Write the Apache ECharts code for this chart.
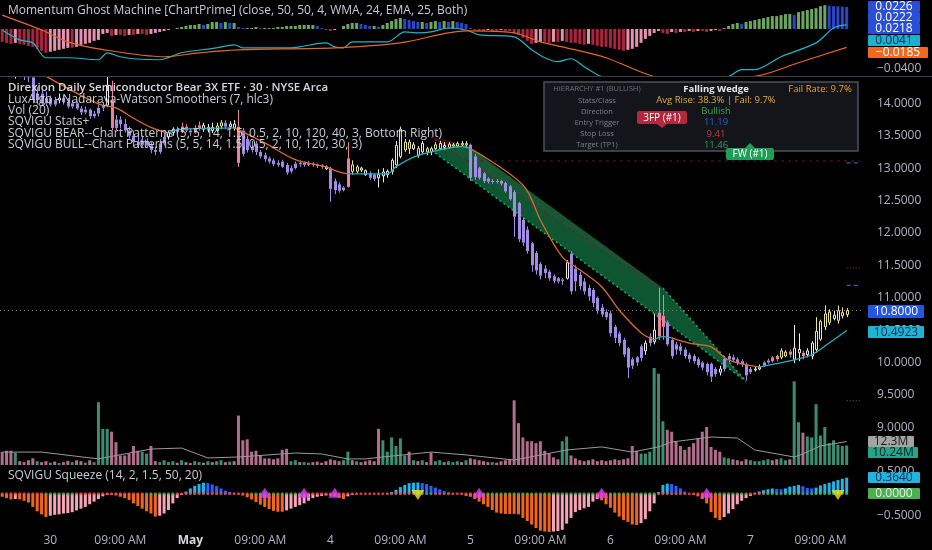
<!DOCTYPE html>
<html>
<head>
<meta charset="utf-8">
<script src="https://cdn.jsdelivr.net/npm/echarts@6.0.0/dist/echarts.min.js"></script>
<style>
html,body{margin:0;padding:0;background:#000;overflow:hidden}
#chart{width:932px;height:550px}
</style>
</head>
<body>
<div id="chart"></div>
<script>
// ---------------- DATA ----------------
const N = 197; // bar slots on the time axis (last few are right padding)
const tickIdx  = [11,27,43,59,75,91,107,123,139,155,171,187];
const tickText = ['30','09:00 AM','May','09:00 AM','4','09:00 AM','5','09:00 AM','6','09:00 AM','7','09:00 AM'];

const opens = [
14.62,14.58,14.55,14.50,14.52,14.47,14.44,14.40,14.05,14.15,
14.00,14.08,13.98,14.05,14.08,14.02,13.95,14.00,13.92,13.86,
13.90,13.80,13.84,13.93,13.97,14.05,13.62,13.75,13.68,13.58,
13.50,13.40,13.36,13.42,13.35,13.28,13.25,13.38,13.48,13.55,
13.60,13.56,13.64,13.58,13.55,13.62,13.66,13.60,13.63,13.58,
13.65,13.70,13.64,13.68,13.64,13.58,13.45,13.28,13.38,13.25,
13.20,13.15,13.12,13.08,13.10,13.05,12.95,13.00,13.06,13.08,
13.05,13.07,13.05,13.03,13.02,13.00,12.80,12.75,12.66,12.71,
13.05,12.95,13.00,12.96,12.92,12.90,12.85,12.88,12.90,12.95,
13.05,13.18,13.40,13.30,13.36,13.30,13.25,13.30,13.25,13.30,
13.30,13.35,13.32,13.36,13.34,13.38,13.36,13.36,13.18,13.00,
12.92,12.84,12.80,12.80,12.80,12.77,12.72,12.63,12.46,12.20,
12.05,11.84,11.69,11.52,11.45,11.40,11.33,11.30,11.26,11.30,
11.68,11.45,11.35,11.25,11.15,11.12,11.00,10.85,10.78,10.76,
10.55,10.45,10.35,10.22,10.05,10.00,10.07,10.18,10.30,10.32,
10.40,10.72,10.62,10.35,10.20,10.25,10.20,10.12,10.10,10.05,
10.00,9.98,9.98,9.90,9.85,9.90,10.05,10.08,10.05,10.02,
9.97,9.85,9.90,9.90,9.95,10.00,10.02,10.05,10.08,10.10,
10.12,10.05,10.15,10.10,10.12,10.10,10.20,10.36,10.55,10.62,
10.68,10.65,10.72,10.74];
const closes = [
14.58,14.55,14.50,14.52,14.47,14.44,14.40,14.05,14.15,14.00,
14.08,13.98,14.05,14.08,14.02,13.95,14.00,13.92,13.86,13.90,
13.80,13.84,13.93,13.97,14.28,13.62,13.75,13.68,13.58,13.50,
13.40,13.36,13.42,13.35,13.28,13.25,13.38,13.48,13.55,13.60,
13.56,13.64,13.58,13.55,13.62,13.66,13.60,13.63,13.58,13.65,
13.70,13.64,13.68,13.62,13.08,13.22,13.28,13.32,13.25,13.18,
13.14,13.10,13.06,13.05,13.02,12.93,13.00,13.07,13.08,13.05,
13.08,13.05,13.03,13.02,12.99,12.68,12.66,12.65,12.70,13.15,
12.95,13.02,12.97,12.90,12.85,12.83,12.90,12.94,12.95,13.12,
13.35,13.60,13.28,13.40,13.30,13.20,13.38,13.25,13.30,13.36,
13.38,13.32,13.37,13.34,13.38,13.36,13.38,12.85,12.86,12.85,
12.80,12.79,12.79,12.79,12.76,12.64,12.52,12.25,11.90,11.85,
11.72,11.50,11.42,11.34,11.38,11.30,11.26,11.25,11.28,11.54,
11.10,11.25,11.18,11.10,11.02,10.92,10.80,10.74,10.70,10.45,
10.38,10.30,10.12,9.92,9.95,10.08,10.25,10.30,10.40,10.50,
10.77,10.55,10.28,10.10,10.28,10.18,10.10,10.05,10.02,9.96,
9.92,9.85,9.78,9.82,9.90,10.06,10.10,10.04,10.00,9.97,
9.80,9.90,9.89,9.93,10.00,10.03,10.08,10.10,10.18,10.16,
10.17,10.22,10.20,10.15,10.18,10.30,10.48,10.63,10.75,10.78,
10.73,10.80,10.77,10.80];
const lows = [
14.52,14.48,14.40,14.38,14.40,14.36,14.33,14.00,13.98,13.96,
13.96,13.95,13.95,14.00,13.98,13.92,13.92,13.90,13.82,13.83,
13.76,13.77,13.80,13.88,13.94,13.58,13.58,13.62,13.55,13.46,
13.34,13.31,13.33,13.32,13.23,13.20,13.22,13.35,13.44,13.50,
13.52,13.54,13.55,13.50,13.53,13.58,13.56,13.55,13.54,13.56,
13.60,13.60,13.60,13.58,13.02,13.18,13.24,13.24,13.20,13.15,
13.10,13.07,13.03,13.02,13.00,12.90,12.92,12.98,13.02,13.02,
13.03,13.02,13.00,12.99,12.97,12.48,12.60,12.62,12.64,12.70,
12.90,12.92,12.94,12.88,12.82,12.80,12.70,12.78,12.85,12.90,
13.00,13.15,13.25,13.22,13.28,13.16,13.22,13.20,13.20,13.28,
13.28,13.28,13.30,13.31,13.32,13.33,13.33,12.80,12.82,12.82,
12.77,12.76,12.76,12.76,12.73,12.62,12.50,11.94,11.86,11.80,
11.68,11.40,11.36,11.28,11.30,11.26,11.22,11.22,11.20,11.28,
11.05,11.10,11.12,11.05,10.95,10.85,10.75,10.70,10.66,10.40,
10.30,10.25,10.08,9.76,9.90,9.95,10.02,10.12,10.25,10.28,
10.35,10.35,10.25,10.06,10.12,10.12,10.06,10.00,9.98,9.92,
9.88,9.80,9.70,9.78,9.80,9.86,10.00,10.00,9.96,9.93,
9.72,9.82,9.86,9.88,9.93,9.98,10.00,10.02,10.05,10.08,
10.08,9.99,10.02,10.05,10.08,10.05,10.15,10.33,10.50,10.58,
10.65,10.60,10.68,10.70];
const highs = [
14.70,14.64,14.60,14.58,14.56,14.52,14.50,14.45,14.25,14.20,
14.18,14.12,14.10,14.15,14.12,14.08,14.05,14.03,13.96,13.95,
13.92,13.88,13.98,14.02,14.42,14.35,13.82,13.80,13.76,13.64,
13.58,13.54,13.50,13.46,13.40,13.33,13.45,13.55,13.58,13.63,
13.64,13.70,13.68,13.62,13.66,13.72,13.70,13.68,13.70,13.70,
13.74,13.74,13.72,13.74,13.90,13.62,13.50,13.42,13.42,13.28,
13.24,13.18,13.15,13.12,13.13,13.08,13.04,13.10,13.12,13.10,
13.11,13.09,13.07,13.06,13.04,13.02,12.84,12.78,12.72,13.40,
13.12,13.05,13.02,12.98,12.95,12.92,12.98,13.00,12.98,13.15,
13.42,13.64,13.45,13.44,13.40,13.34,13.42,13.33,13.33,13.40,
13.42,13.40,13.40,13.39,13.41,13.42,13.42,13.38,13.22,13.02,
12.94,12.86,12.83,12.83,12.82,12.79,12.74,12.66,12.48,12.24,
12.10,11.86,11.72,11.55,11.50,11.43,11.36,11.32,11.30,11.58,
11.72,11.50,11.40,11.30,11.20,11.15,11.02,10.90,10.82,10.80,
10.58,10.48,10.38,10.24,10.08,10.10,10.28,10.34,10.45,10.75,
11.15,11.04,10.65,10.38,10.32,10.30,10.23,10.15,10.13,10.08,
10.02,10.00,10.00,9.93,9.95,10.10,10.14,10.12,10.08,10.05,
10.00,9.93,9.94,9.97,10.02,10.06,10.10,10.12,10.22,10.19,
10.20,10.58,10.45,10.18,10.22,10.33,10.70,10.66,10.88,10.82,
10.80,10.88,10.85,10.84];
// candle colour classes: p purple, k pink, w white (hollow), y yellow (hollow)
const candleClass =
 "pppwpppppp"+"pppwpppppp"+"ppppwkpppp"+"ppppppppww"+"pkkpkkwwwy"+
 "ypwwkppppp"+"pppppppppp"+"ppppwppppk"+"yywwppwwwy"+"yyyywywywy"+
 "ywyyyyyppp"+"pppppppppp"+"pppppppppw"+"pppppppppp"+"pppppppwpw"+
 "kkpppppppp"+"ppppwppppp"+"ppwwppkkyy"+"kwwkwwyyyy"+"wyyy";

const volume = [
6.8,7.5,7.5,6.5,2.0,1.5,2.5,3.5,2.0,1.5,
2.0,1.2,1.8,1.0,1.5,2.2,1.5,2.5,2.0,1.2,
2.5,1.5,33,19,19,17.5,12,5,5,6,
10,7.5,7,6,10,2,1.5,2.5,1.5,2,
1.2,2.5,1.5,1,2,1.5,1.2,2,1.5,2,
2.5,1.5,1.8,2,26,13,13.5,7,7.5,5,
3.5,3.5,3,3.5,8,8.5,2,2.5,1.5,1.5,
1.2,1.5,1.8,1.2,2,3,2.5,2,2.5,7,
2.5,2,1.5,2,2.5,2,19,13,7,14.5,
10,14,5,7,2.5,2,2.5,1.5,6.5,2,
2.5,1.5,2,1.5,2,1.5,2.5,3.5,3,2.5,
2,1.5,1.5,1.2,2,2.5,3,34,22,14.5,
12.5,12.5,11.5,12.5,7.5,6,4,3,12.5,15,
5,3.5,2.5,2,2.5,3,2,2.5,2,2.5,
3,2.5,3,3.5,10,7.5,6,6,7,51,
48,23,18.5,17.5,12.5,10,8,9.5,11.5,14,
17.5,20,9.5,8,7,4,3.5,3,2.5,2,
3,2.5,2,2,2.5,3,2.5,3,3.5,2.5,
3,44,22.5,17,15,14.5,32,15.5,20,11.5,
13,10.5,10,10.24];
const volClass =
 "rrrgrrrrgr"+"rgrgrrgrrg"+"rggggrrrrr"+"rrggrrgggg"+"rgrrggrgrg"+
 "grgrrrrrrr"+"rrrrrrggrg"+"grrrrrrrgg"+"rgrrrrrggg"+"gggrgrgrrg"+
 "grgggrgrrr"+"rrgrrrrrrr"+"rrrrrrrrgg"+"rrrrrrrrrr"+"rrrrrrgggg"+
 "ggrrrrrrrr"+"rrrrrggrrr"+"rgggggrrgg"+"rggrgggggg"+"gggg";
const volMaIdx = [0,9,22,34,41,47,54,67,73,79,83,87,98,106,117,129,137,144,150,153,162,168,172,181,183,187,193];
const volMaVal = [6.8,6.8,3.2,8.4,8.9,3.7,4.2,6.3,5.8,3.2,3.2,4.2,6.8,5.3,2.6,7.9,9.5,6.8,9.5,12.1,14.7,14.2,7.9,4.2,5.8,10,12.3];

// Nadaraya-Watson smoother (read points) and its teal (rising) stretches
const nwIdx = [10,22,26,30,34,38,40,45,53,60,67,74,77,79,83,88,90,94,98,102,105,107,119,123,128,132,137,141,146,149,151,153,157,162,166,173,181,185,189,193];
const nwVal = [14.42,13.99,13.93,13.77,13.63,13.54,13.59,13.61,13.62,13.39,13.13,13.02,12.94,12.91,12.91,12.91,13.02,13.17,13.25,13.31,13.33,13.30,12.74,12.20,11.63,11.43,11.17,10.81,10.46,10.35,10.40,10.38,10.30,10.24,10.04,9.93,10.04,10.12,10.30,10.4923];
const nwTealRanges = [[38,53],[79,107],[149,153],[173,193]];

// Falling wedge geometry (bar index, price)
const wedgeIdx = [98,106,151,170];
const wedgeVal = [13.28,13.36,11.15,9.71];
const bearIdx = [98,151,106];
const bearVal = [13.48,11.12,13.36];

// Momentum Ghost Machine (top pane)
const mgmHist = [
-0.013,-0.014,-0.015,-0.014,-0.015,-0.016,-0.017,-0.018,-0.020,-0.022,
-0.024,-0.023,-0.022,-0.021,-0.020,-0.019,-0.019,-0.018,-0.016,-0.015,
-0.014,-0.012,-0.011,-0.005,-0.004,-0.007,-0.006,-0.006,-0.007,-0.006,
-0.006,-0.005,-0.005,-0.006,-0.005,-0.004,-0.003,-0.002,-0.001,0.000,
0.001,0.002,0.003,0.004,0.004,0.005,0.004,0.005,0.007,0.007,
0.006,0.007,0.006,0.006,0.002,0.001,0.001,0.001,0.002,0.001,
0.001,0.001,0.001,0.002,0.002,0.003,0.003,0.003,0.004,0.004,
0.004,0.004,0.003,0.001,-0.001,-0.002,-0.001,0.000,0.003,0.005,
0.006,0.006,0.005,0.004,0.003,0.003,0.002,0.004,0.006,0.008,
0.010,0.011,0.010,0.009,0.008,0.007,0.007,0.006,0.007,0.008,
0.007,0.008,0.007,0.008,0.007,0.006,0.005,0.001,-0.001,-0.002,
-0.002,-0.001,-0.002,-0.002,-0.001,-0.002,-0.002,-0.004,-0.006,-0.009,
-0.012,-0.015,-0.014,-0.013,-0.013,-0.014,-0.013,-0.013,-0.012,-0.013,
-0.014,-0.014,-0.015,-0.016,-0.015,-0.016,-0.017,-0.018,-0.018,-0.019,
-0.020,-0.021,-0.022,-0.021,-0.020,-0.018,-0.014,-0.010,-0.007,-0.004,
-0.002,-0.004,-0.005,-0.003,-0.004,-0.003,-0.003,-0.002,-0.003,-0.002,
-0.002,-0.003,-0.002,-0.001,-0.002,0.001,0.003,0.005,0.006,0.005,
0.007,0.008,0.009,0.010,0.011,0.012,0.013,0.013,0.014,0.015,
0.015,0.014,0.017,0.018,0.019,0.020,0.021,0.023,0.024,0.0235,
0.023,0.0228,0.0225,0.0222];
const mgmTealIdx = [0,4,7,10,15,22,24,27,30,36,41,49,53,55,66,68,74,76,78,80,88,92,95,98,102,106,109,117,121,124,127,130,133,137,145,155,166,169,172,178,186,190,193];
const mgmTealVal = [-0.001,-0.011,-0.014,-0.029,-0.029,-0.031,-0.024,-0.028,-0.030,-0.031,-0.024,-0.019,-0.016,-0.019,-0.019,-0.018,-0.014,-0.018,-0.019,-0.013,-0.013,-0.003,-0.004,-0.003,0.001,-0.001,-0.006,-0.008,-0.021,-0.029,-0.033,-0.030,-0.038,-0.048,-0.058,-0.060,-0.048,-0.041,-0.041,-0.028,-0.014,0.001,0.0041];
const mgmOrIdx = [0,9,15,22,37,45,54,76,91,106,117,123,129,138,149,160,173,182,193];
const mgmOrVal = [0.014,-0.001,-0.013,-0.020,-0.028,-0.024,-0.021,-0.019,-0.014,-0.002,-0.004,-0.013,-0.019,-0.029,-0.048,-0.053,-0.047,-0.034,-0.0185];

// Squeeze (bottom pane)
const sqz = [
-0.07,-0.10,-0.13,-0.12,-0.13,-0.16,-0.20,-0.30,-0.40,-0.47,
-0.53,-0.50,-0.48,-0.47,-0.45,-0.44,-0.42,-0.38,-0.34,-0.30,
-0.24,-0.18,-0.12,-0.06,-0.03,-0.02,-0.04,-0.07,-0.10,-0.14,
-0.22,-0.28,-0.34,-0.40,-0.45,-0.52,-0.50,-0.45,-0.37,-0.22,
-0.10,-0.03,0.05,0.12,0.18,0.22,0.25,0.24,0.21,0.17,
0.12,0.07,0.04,0.02,-0.01,-0.04,-0.08,-0.13,-0.19,-0.25,
-0.30,-0.35,-0.39,-0.41,-0.41,-0.38,-0.34,-0.30,-0.26,-0.22,
-0.16,-0.10,-0.07,-0.05,-0.04,-0.05,-0.06,-0.09,-0.12,-0.06,
-0.03,-0.01,0.00,0.00,0.00,0.00,0.00,0.00,0.01,0.04,
0.09,0.15,0.20,0.24,0.25,0.255,0.24,0.22,0.18,0.14,
0.10,0.06,0.03,0.01,0.00,-0.01,-0.05,-0.07,-0.12,-0.18,
-0.24,-0.30,-0.37,-0.43,-0.45,-0.46,-0.46,-0.46,-0.47,-0.55,
-0.62,-0.70,-0.78,-0.84,-0.86,-0.87,-0.86,-0.85,-0.82,-0.68,
-0.55,-0.42,-0.37,-0.33,-0.30,-0.18,-0.12,-0.15,-0.24,-0.32,
-0.43,-0.52,-0.60,-0.64,-0.70,-0.71,-0.67,-0.58,-0.40,-0.22,
0.04,0.20,0.23,0.22,0.18,0.12,0.05,0.00,-0.02,-0.06,
-0.12,-0.22,-0.42,-0.55,-0.60,-0.53,-0.45,-0.35,-0.24,-0.16,
-0.10,-0.05,0.02,0.05,0.08,0.10,0.12,0.11,0.10,0.12,
0.16,0.18,0.20,0.17,0.13,0.12,0.14,0.19,0.22,0.25,
0.28,0.31,0.34,0.364];
const sqzDotClass =
 "rrrrrrrrrr"+"gggggggrrr"+"rrrrrrrrrr"+"rrrggggggg"+"rrrrrrrrrr"+
 "rrrrrrrggg"+"gggggggggr"+"rrrrrrrrrr"+"rrrrrrrrrr"+"rrrrrggggr"+
 "rrrrrrrrrg"+"gggggggggg"+"gggggggggg"+"ggggggrrrg"+"gggggggggg"+
 "rrrrrrrrrr"+"rrrggggggg"+"grrrrggggg"+"gggggggggg"+"gggg";
const upTriIdx = [60,69,76,109,137,161];
const downTriIdx = [95,191];

// ---------------- CHART ----------------
const FONT = 'Open Sans';
const chart = echarts.init(document.getElementById('chart'), null, {renderer:'canvas'});
const categories = Array.from({length:N}, (_, i) => 'b' + i);
const pair = (xs, ys) => xs.map((x, k) => [x, ys[k]]);

const cMap = {p:'#a28ce8', k:'#e8829f', w:'#ececec', y:'#ece486'};
const candleRows = opens.map((o, i) => [i, o, closes[i], lows[i], highs[i]]);
const volData = volume.map((v, i) => ({value:v, itemStyle:{color: volClass[i] === 'g' ? '#3a8f73' : '#b26d8b'}}));

const mgmData = mgmHist.map((v, i) => {
  const p = i ? mgmHist[i-1] : v; let c;
  if (v >= 0) c = v >= p ? '#6aa85f' : '#2a47c9';
  else c = v <= p ? '#a9243e' : '#e592b0';
  return {value:v, itemStyle:{color:c}};
});
const sqzData = sqz.map((v, i) => {
  const p = i ? sqz[i-1] : v; let c;
  if (v >= 0) c = v >= p ? '#22b4e6' : '#2962ff';
  else c = v <= p ? '#f2661c' : '#f7a3b8';
  return {value:v, itemStyle:{color:c}};
});
const dotData = sqz.map((v, i) => ({value:[i, 0], itemStyle:{color: sqzDotClass[i] === 'g' ? '#4caf50' : '#ff4a4a'}}));

// smoother runs
function inTeal(a, b){ return nwTealRanges.some(r => a >= r[0] && b <= r[1]); }
const nwSeries = [];
let run = [[nwIdx[0], nwVal[0]]], runTeal = inTeal(nwIdx[0], nwIdx[1]);
for (let k = 1; k < nwIdx.length; k++) {
  const t = inTeal(nwIdx[k-1], nwIdx[k]);
  if (t !== runTeal) { nwSeries.push({teal:runTeal, pts:run}); run = [[nwIdx[k-1], nwVal[k-1]]]; runTeal = t; }
  run.push([nwIdx[k], nwVal[k]]);
}
nwSeries.push({teal:runTeal, pts:run});

const polySeries = (xs, ys, fill, z) => ({
  type:'custom', xAxisIndex:1, yAxisIndex:1, data:[[0,0]], clip:true, silent:true, z:z,
  renderItem:(params, api) => ({type:'polygon', shape:{points: xs.map((x, k) => api.coord([x, ys[k]]))}, style:{fill:fill}})
});
const segLine = (pts, color, type, width, z) => ({
  type:'line', xAxisIndex:1, yAxisIndex:1, data:pts, symbol:'none', silent:true, z:z||4,
  lineStyle:{color:color, type:type, width:width}
});

// candles drawn through the axes, clipped to the price pane
function renderCandle(params, api) {
  const i = api.value(0);
  const pO = api.coord([i, api.value(1)]), pC = api.coord([i, api.value(2)]);
  const pL = api.coord([i, api.value(3)]), pH = api.coord([i, api.value(4)]);
  const t = candleClass[params.dataIndex], col = cMap[t];
  const hollow = (t === 'w' || t === 'y');
  const x = Math.round(pO[0]) + 0.5;
  const yTop = Math.min(pO[1], pC[1]);
  const bh = Math.max(1, Math.abs(pO[1] - pC[1]));
  const kids = [
    {type:'line', shape:{x1:x, y1:pH[1], x2:x, y2:yTop}, style:{stroke:col, lineWidth:1}},
    {type:'line', shape:{x1:x, y1:yTop + bh, x2:x, y2:pL[1]}, style:{stroke:col, lineWidth:1}},
    hollow
      ? {type:'rect', shape:{x:x - 1, y:yTop, width:2, height:Math.max(1, bh)}, style:{fill:'#000', stroke:col, lineWidth:1}}
      : {type:'rect', shape:{x:x - 1.5, y:yTop, width:3, height:bh}, style:{fill:col}}
  ];
  return {type:'group', children:kids};
}

const axisLabelBase = {color:'#b2b5be', fontSize:12, fontFamily:FONT};
const series = [
  // top pane
  {type:'bar', xAxisIndex:0, yAxisIndex:0, data:mgmData, barWidth:3, silent:true},
  {type:'line', xAxisIndex:0, yAxisIndex:0, data:pair(mgmTealIdx, mgmTealVal), symbol:'none', smooth:0.3, lineStyle:{color:'#22b3c9', width:1.2}, silent:true, z:3},
  {type:'line', xAxisIndex:0, yAxisIndex:0, data:pair(mgmOrIdx, mgmOrVal), symbol:'none', smooth:0.3, lineStyle:{color:'#e8662a', width:1.2}, silent:true, z:3},
  // main pane: volume
  {type:'bar', xAxisIndex:1, yAxisIndex:2, data:volData, barWidth:3, silent:true, z:1},
  {type:'line', xAxisIndex:1, yAxisIndex:2, data:pair(volMaIdx, volMaVal), symbol:'none', lineStyle:{color:'#9a9a9a', width:1}, silent:true, z:2},
  // wedge
  polySeries(bearIdx, bearVal, '#3b0e16', 2),
  polySeries(wedgeIdx, wedgeVal, 'rgba(16,100,58,0.85)', 2),
  segLine([[wedgeIdx[0], wedgeVal[0]], [wedgeIdx[3], wedgeVal[3]]], '#1fa35c', [2,3], 1.6),
  segLine([[wedgeIdx[2], wedgeVal[2]], [wedgeIdx[3], wedgeVal[3]]], '#1fa35c', [2,3], 1.6),
  segLine([[bearIdx[0], bearVal[0]], [bearIdx[1], bearVal[1]]], '#7a1e2c', [2,3], 1.4),
  // pattern levels
  segLine([[106, 13.11], [196, 13.11]], '#5e1a24', [3,4], 1),
  segLine([[193, 13.08], [196, 13.08]], '#3d55c4', [4,3], 1.2),
  segLine([[193, 11.46], [196, 11.46]], '#9c3444', [1,2], 1),
  segLine([[193, 11.19], [196, 11.19]], '#3d55c4', [4,3], 1.2),
  segLine([[193, 9.41], [196, 9.41]], '#6b6b6b', [1,2], 1),
  // current price line
  {type:'line', xAxisIndex:1, yAxisIndex:1, data:[], silent:true,
   markLine:{silent:true, symbol:'none', label:{show:false}, lineStyle:{color:'#7d7d7d', type:[1,3], width:1},
     data:[{yAxis:closes[closes.length-1]}]}},
  // candles
  {type:'custom', xAxisIndex:1, yAxisIndex:1, data:candleRows, encode:{x:0, y:[1,2,3,4]}, clip:true, silent:true, z:5, renderItem:renderCandle},
  // squeeze pane
  {type:'bar', xAxisIndex:2, yAxisIndex:3, data:sqzData, barWidth:3, silent:true},
  {type:'scatter', xAxisIndex:2, yAxisIndex:3, data:dotData, symbolSize:3, silent:true, z:4},
  {type:'scatter', xAxisIndex:2, yAxisIndex:3, data:upTriIdx.map(i => [i, 0.02]), symbol:'triangle', symbolSize:[13,10], itemStyle:{color:'#df3ff5'}, silent:true, z:5},
  {type:'scatter', xAxisIndex:2, yAxisIndex:3, data:downTriIdx.map(i => [i, -0.03]), symbol:'triangle', symbolRotate:180, symbolSize:[13,10], itemStyle:{color:'#f5e21c'}, silent:true, z:5}
];
nwSeries.forEach(s => series.push({type:'line', xAxisIndex:1, yAxisIndex:1, data:s.pts, symbol:'none', smooth:0.35,
  lineStyle:{color: s.teal ? '#1eb3c2' : '#e0692a', width:1.3}, silent:true, z:6}));

// text helpers
const T = (text, x, y, o, z) => ({type:'text', z:z || 100, silent:true,
  style:Object.assign({text:text, x:x, y:y, fill:'#c9ccd3', fontSize:12, fontFamily:FONT, align:'left', verticalAlign:'middle', textAlign:'left', textVerticalAlign:'middle'}, o||{})});
const Box = (text, x, y, w, h, bg, fg) => [
  {type:'rect', z:110, silent:true, shape:{x:x, y:y, width:w, height:h, r:1}, style:{fill:bg}},
  {type:'text', z:111, silent:true, style:{text:text, x:x + w/2, y:y + h/2 + 0.5, fill:fg, fontSize:12, fontFamily:FONT, align:'center', verticalAlign:'middle', textAlign:'center', textVerticalAlign:'middle'}}
];
const tc = (text, x, y, fill, size, weight, z) => T(text, x, y, {fill:fill, fontSize:size, fontWeight:weight||'normal', align:'center', textAlign:'center'}, z);

const graphic = [
  {type:'line', z:50, silent:true, shape:{x1:0, y1:76.5, x2:932, y2:76.5}, style:{stroke:'#3b3e46', lineWidth:1}},
  T('Momentum Ghost Machine [ChartPrime] (close, 50, 50, 4, WMA, 24, EMA, 25, Both)', 8, 11),
  T('Direxion Daily Semiconductor Bear 3X ETF · 30 · NYSE Arca', 8, 88, {fontWeight:600, fill:'#d6d8de', fontSize:11.5}),
  T('LuxAlgo - Nadaraya-Watson Smoothers (7, hlc3)', 8, 99.5),
  T('Vol (20)', 8, 110.8),
  T('SQVIGU Stats+', 8, 122),
  T('SQVIGU BEAR--Chart Patterns (5, 5, 14, 1.5, 0.5, 2, 10, 120, 40, 3, Bottom Right)', 8, 133.3),
  T('SQVIGU BULL--Chart Patterns (5, 5, 14, 1.5, 0.5, 2, 10, 120, 30, 3)', 8, 144.5),
  T('SQVIGU Squeeze (14, 2, 1.5, 50, 20)', 8, 476),
  // stats table
  {type:'rect', z:90, silent:true, shape:{x:544, y:82, width:314, height:69}, style:{fill:'rgba(20,22,28,0.96)', stroke:'#4d5059', lineWidth:1.5}},
  tc('HIERARCHY #1 (BULLISH)', 597, 89, '#6d707b', 7.5),
  tc('Falling Wedge', 716, 89, '#e8e8e8', 9.5, 'bold'),
  tc('Fail Rate: 9.7%', 820, 89, '#e8a22c', 9.5),
  tc('Stats/Class', 597, 100.5, '#7c7f8a', 7.5),
  tc('Avg Rise: 38.3% | Fail: 9.7%', 716, 100.5, '#e6ac34', 9.5),
  tc('Direction', 597, 111.5, '#7c7f8a', 7.5),
  tc('Bullish', 716, 111.5, '#3ea34e', 9.5),
  tc('Entry Trigger', 597, 122.7, '#7c7f8a', 7.5),
  tc('11.19', 716, 122.7, '#2f5fd9', 9.5),
  tc('Stop Loss', 597, 134, '#7c7f8a', 7.5),
  tc('9.41', 716, 134, '#d13649', 9.5),
  tc('Target (TP1)', 597, 145, '#7c7f8a', 7.5),
  tc('11.46', 716, 145, '#3a9a58', 9.5),
  // pattern tags
  {type:'rect', z:120, silent:true, shape:{x:637, y:111, width:50, height:13, r:2}, style:{fill:'#b3283d'}},
  {type:'polygon', z:120, silent:true, shape:{points:[[657,124],[667,124],[662,128]]}, style:{fill:'#b3283d'}},
  tc('3FP (#1)', 662, 117.8, '#ffffff', 10, 'normal', 130),
  {type:'rect', z:120, silent:true, shape:{x:726, y:148, width:48, height:12, r:2}, style:{fill:'#1f9e58'}},
  {type:'polygon', z:120, silent:true, shape:{points:[[745,148],[755,148],[750,143]]}, style:{fill:'#1f9e58'}},
  tc('FW (#1)', 750, 154.3, '#ffffff', 10, 'normal', 130)
].concat(
  Box('0.0226', 868, 1, 52, 11, '#2a4fd6', '#ffffff'),
  Box('0.0222', 868, 12, 52, 11, '#2a4fd6', '#ffffff'),
  Box('0.0218', 868, 23, 52, 11, '#2a4fd6', '#ffffff'),
  Box('0.0041', 868, 35, 52, 11, '#1cb1cf', '#0d2f55'),
  Box('\u22120.0185', 868, 47, 60, 11, '#f2681f', '#ffffff'),
  Box('10.8000', 868, 305, 56, 13, '#2456e0', '#ffffff'),
  Box('10.4923', 868, 326, 56, 12, '#1fb3d3', '#0d2f55'),
  Box('12.3M', 868, 436, 46, 11, '#a3a3a3', '#1b1b1b'),
  Box('10.24M', 868, 447, 50, 11, '#26a38a', '#0b2722'),
  Box('0.3640', 868, 472, 52, 11, '#22b4e0', '#0d2f55'),
  Box('0.0000', 868, 488, 52, 11, '#4caf50', '#e6f5e6')
);

const hideAxisX = (gi) => ({type:'category', gridIndex:gi, data:categories, boundaryGap:true, show:false});
const sqzFmt = (v) => (Math.abs(Math.abs(v) - 0.5) < 1e-9) ? (v < 0 ? '\u22120.5000' : '0.5000') : '';
const option = {
  backgroundColor:'#000',
  animation:false,
  grid:[
    {left:0, right:70, top:0, height:76},
    {left:0, right:70, top:77, height:388},
    {left:0, right:70, top:466, height:68}
  ],
  xAxis:[
    hideAxisX(0), hideAxisX(1),
    {type:'category', gridIndex:2, data:categories, boundaryGap:true,
     axisLine:{show:false}, axisTick:{show:false}, splitLine:{show:false},
     axisLabel:Object.assign({}, axisLabelBase, {margin:1,
       interval:(index) => tickIdx.indexOf(index) >= 0,
       formatter:(val, index) => { const t = tickText[tickIdx.indexOf(index)]; return t === 'May' ? '{b|May}' : t; },
       rich:{b:{fontWeight:'bold', color:'#d6d8de', fontSize:12, fontFamily:FONT}}})}
  ],
  yAxis:[
    {type:'value', gridIndex:0, position:'right', min:-0.0474, max:0.0292, minInterval:0.02, maxInterval:0.02,
     splitLine:{show:false}, axisLine:{show:false}, axisTick:{show:false},
     axisLabel:Object.assign({}, axisLabelBase, {margin:15, showMinLabel:false, showMaxLabel:false,
       formatter:(v) => Math.abs(v + 0.04) < 1e-9 ? '\u22120.0400' : ''})},
    {type:'value', gridIndex:1, position:'right', min:8.418, max:14.406, minInterval:0.5, maxInterval:0.5, scale:true,
     splitLine:{show:false}, axisLine:{show:false}, axisTick:{show:false},
     axisLabel:Object.assign({}, axisLabelBase, {margin:15, showMinLabel:false, showMaxLabel:false,
       formatter:(v) => (v < 8.9 || v > 14.1) ? '' : v.toFixed(4)})},
    {type:'value', gridIndex:1, min:0, max:204, show:false, splitLine:{show:false}},
    {type:'value', gridIndex:2, position:'right', min:-0.916, max:0.63, minInterval:0.5, maxInterval:0.5,
     splitLine:{show:false}, axisLine:{show:false}, axisTick:{show:false},
     axisLabel:Object.assign({}, axisLabelBase, {margin:15, showMinLabel:true, showMaxLabel:true, hideOverlap:false,
       formatter:sqzFmt})}
  ],
  series:series,
  graphic:graphic
};
chart.setOption(option);
</script>
</body>
</html>
